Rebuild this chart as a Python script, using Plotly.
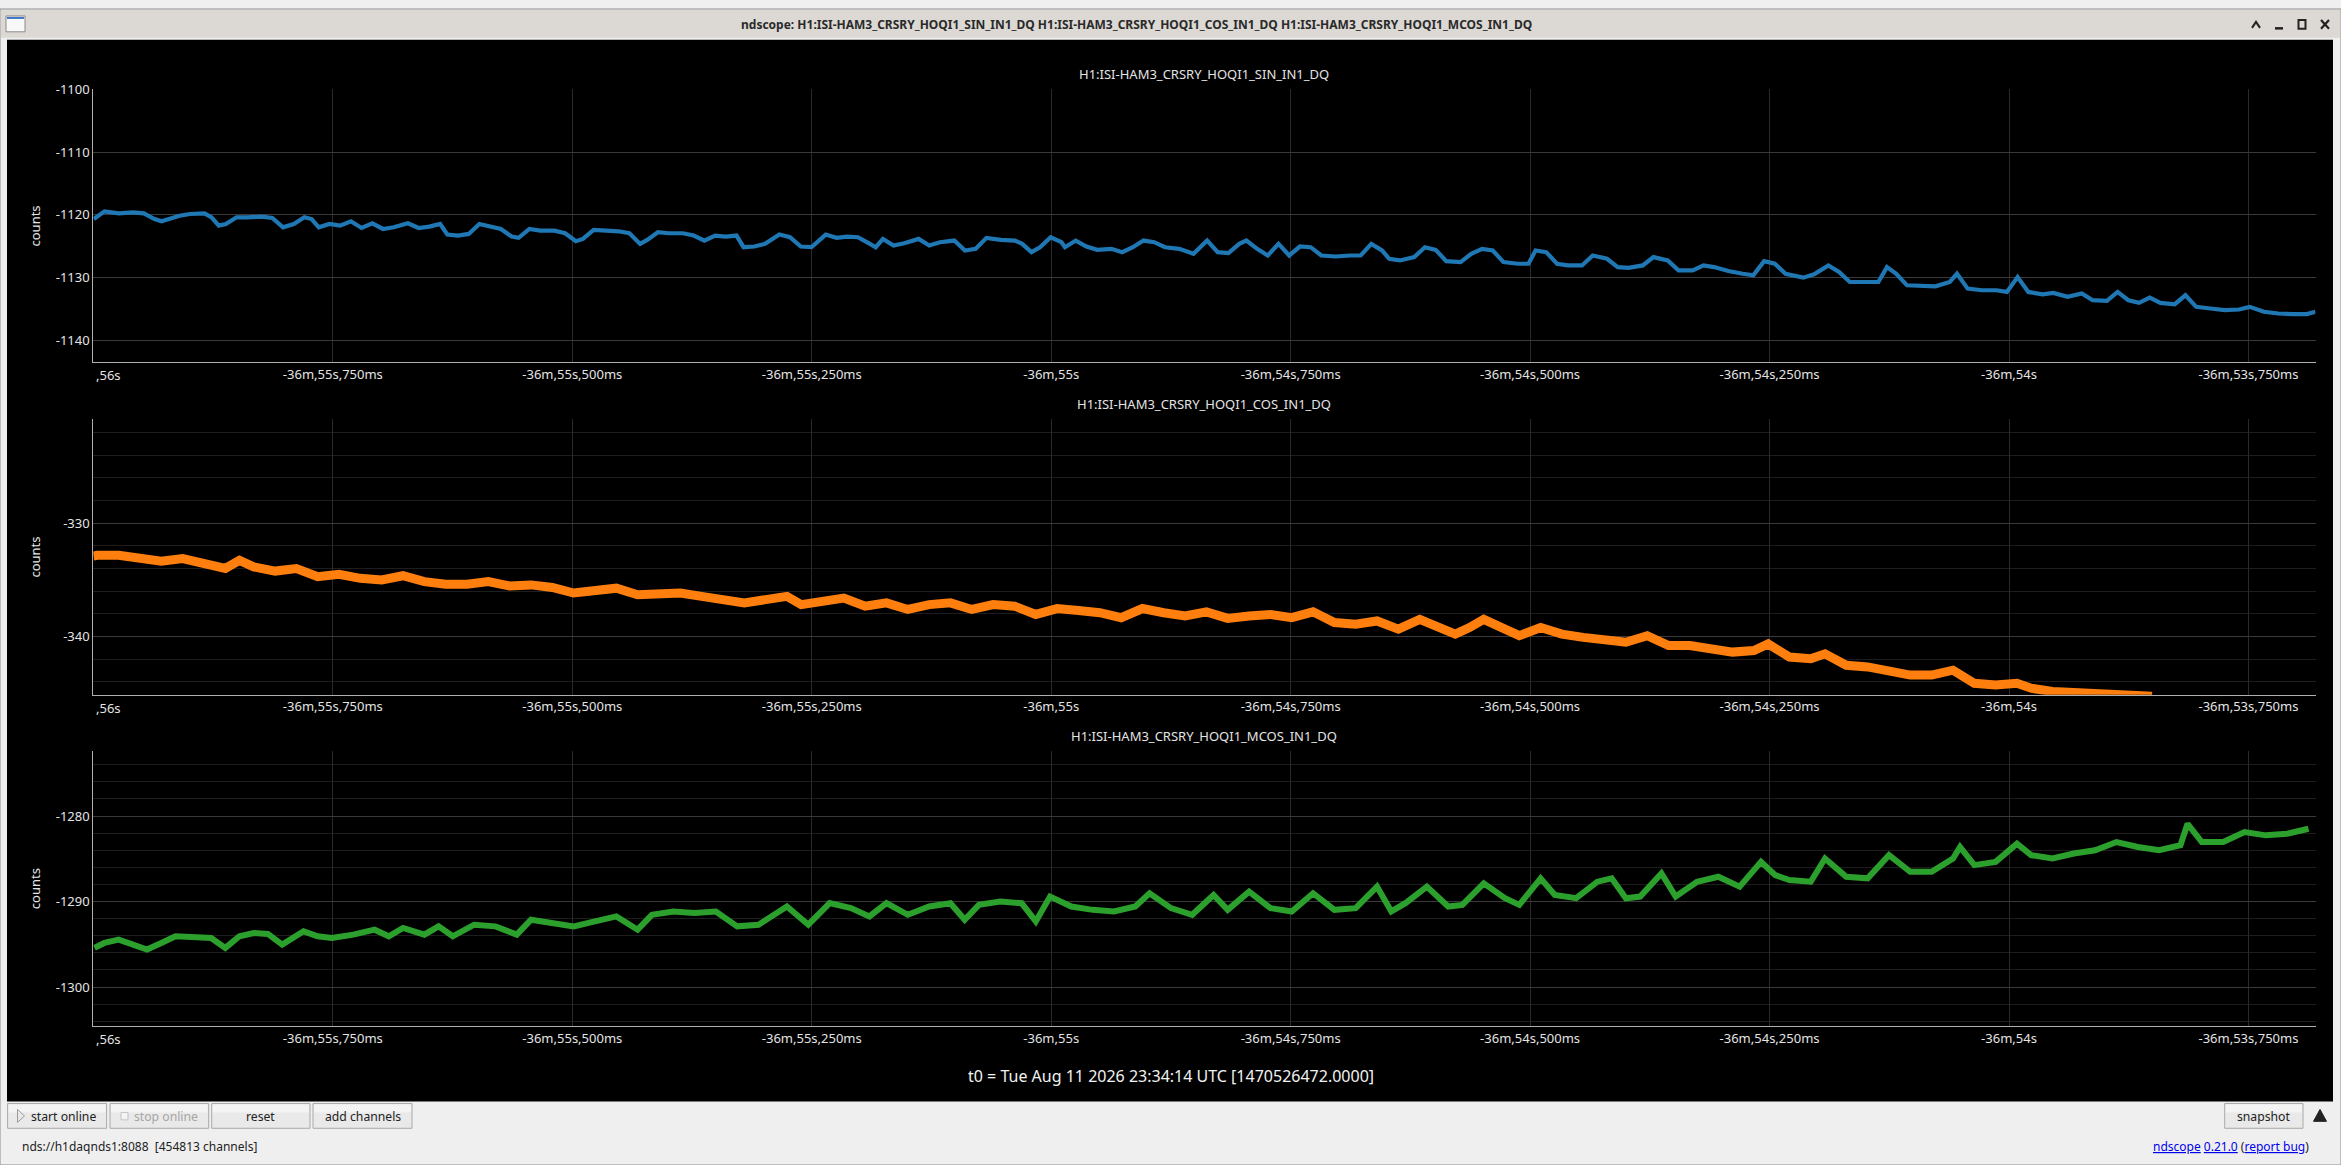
import plotly.graph_objects as go

W, H = 2341, 1165


def px(x):
    return x / W


def py(y):
    return 1 - y / H


# ---------------- data ----------------
T_START = -2216.0      # seconds relative to t0  (-36m,56s)
T_END = -2213.680

channels = ["H1:ISI-HAM3_CRSRY_HOQI1_SIN_IN1_DQ",
            "H1:ISI-HAM3_CRSRY_HOQI1_COS_IN1_DQ",
            "H1:ISI-HAM3_CRSRY_HOQI1_MCOS_IN1_DQ"]

tick_vals = [-2215.75, -2215.5, -2215.25, -2215.0, -2214.75, -2214.5, -2214.25, -2214.0, -2213.75]
tick_text = ["-36m,55s,750ms", "-36m,55s,500ms", "-36m,55s,250ms", "-36m,55s",
             "-36m,54s,750ms", "-36m,54s,500ms", "-36m,54s,250ms", "-36m,54s",
             "-36m,53s,750ms"]

y_tick_vals = [[-1140, -1130, -1120, -1110, -1100], [-340, -330], [-1300, -1290, -1280]]
y_tick_text = [["-1140", "-1130", "-1120", "-1110", "-1100"], ["-340", "-330"], ["-1300", "-1290", "-1280"]]

# SIN channel: time in ms after -36m,56s and counts
sin_t_ms = [0.4, 11.6, 26.5, 41.4, 52.6, 63.8, 71.2, 78.7, 89.9, 101.0,
            116.0, 123.4, 130.9, 138.3, 149.5, 160.7, 175.6, 186.8, 198.0, 209.2,
            220.3, 227.8, 235.3, 246.4, 257.6, 268.8, 280.0, 291.2, 302.4, 313.5,
            328.4, 339.6, 350.8, 362.0, 369.5, 380.7, 391.8, 403.0, 414.2, 425.4,
            436.6, 444.0, 455.2, 466.4, 481.3, 492.5, 503.7, 511.1, 522.3, 533.5,
            548.4, 559.6, 570.8, 578.2, 589.4, 600.6, 615.5, 626.7, 637.9, 649.1,
            660.2, 671.4, 678.9, 690.1, 701.2, 716.2, 727.3, 738.5, 749.7, 764.6,
            775.8, 787.0, 798.2, 809.4, 816.8, 824.3, 835.4, 846.6, 861.6, 872.7,
            883.9, 898.8, 910.0, 921.2, 932.4, 947.3, 962.2, 969.7, 979.4, 988.3,
            999.5, 1010.7, 1014.4, 1025.6, 1036.8, 1048.0, 1062.9, 1074.1, 1085.2, 1096.4,
            1107.6, 1118.8, 1133.7, 1148.6, 1155.3, 1162.8, 1173.9, 1185.1, 1196.3, 1203.8,
            1215.0, 1226.1, 1237.3, 1248.5, 1259.7, 1270.9, 1282.0, 1297.0, 1311.9, 1323.1,
            1334.2, 1345.4, 1352.9, 1364.1, 1379.0, 1390.2, 1401.4, 1412.5, 1427.4, 1438.6,
            1449.8, 1461.0, 1472.2, 1487.1, 1498.3, 1505.7, 1516.9, 1528.1, 1539.3, 1554.2,
            1565.4, 1580.3, 1591.5, 1602.7, 1617.6, 1628.8, 1643.7, 1654.9, 1669.8, 1681.0,
            1692.1, 1707.0, 1722.0, 1733.1, 1744.3, 1755.5, 1766.7, 1785.3, 1796.5, 1811.4,
            1822.6, 1833.8, 1852.4, 1863.6, 1872.6, 1882.3, 1893.5, 1908.4, 1923.3, 1938.2,
            1945.7, 1956.8, 1971.7, 1986.7, 1997.8, 2009.0, 2020.2, 2035.1, 2046.3, 2061.2,
            2076.1, 2087.3, 2102.2, 2113.4, 2124.6, 2135.8, 2146.9, 2158.1, 2173.0, 2184.2,
            2195.4, 2210.3, 2225.2, 2240.2, 2251.3, 2266.2, 2281.2, 2296.1, 2311.0, 2320.0]
sin_counts = [-1120.69, -1119.47, -1119.79, -1119.63, -1119.79, -1120.69, -1121.06, -1120.69, -1120.16, -1119.89,
              -1119.79, -1120.42, -1121.75, -1121.48, -1120.42, -1120.42, -1120.32, -1120.53, -1122.01, -1121.48,
              -1120.42, -1120.69, -1122.01, -1121.48, -1121.75, -1121.06, -1122.12, -1121.38, -1122.28, -1122.01,
              -1121.38, -1122.12, -1121.90, -1121.48, -1123.17, -1123.33, -1123.07, -1121.48, -1121.90, -1122.28,
              -1123.49, -1123.70, -1122.28, -1122.54, -1122.54, -1122.96, -1124.23, -1123.86, -1122.43, -1122.54,
              -1122.65, -1122.96, -1124.66, -1124.02, -1122.80, -1122.96, -1122.96, -1123.33, -1124.13, -1123.33,
              -1123.49, -1123.33, -1125.19, -1125.08, -1124.66, -1123.17, -1123.60, -1125.08, -1125.19, -1123.17,
              -1123.70, -1123.49, -1123.60, -1124.55, -1125.19, -1123.86, -1124.92, -1124.55, -1123.86, -1124.92,
              -1124.39, -1124.13, -1125.71, -1125.45, -1123.70, -1124.02, -1124.13, -1124.66, -1125.98, -1125.19,
              -1123.60, -1124.39, -1125.19, -1124.13, -1125.08, -1125.61, -1125.45, -1125.98, -1125.19, -1124.13,
              -1124.39, -1125.19, -1125.45, -1126.24, -1125.19, -1124.13, -1125.98, -1126.14, -1124.66, -1124.13,
              -1125.45, -1126.51, -1124.66, -1126.51, -1125.08, -1125.19, -1126.51, -1126.67, -1126.51, -1126.51,
              -1124.66, -1125.71, -1127.04, -1127.30, -1126.77, -1125.19, -1125.61, -1127.41, -1127.57, -1126.24,
              -1125.45, -1125.71, -1127.57, -1127.83, -1127.83, -1125.71, -1125.98, -1127.83, -1128.10, -1128.10,
              -1126.51, -1127.04, -1128.36, -1128.47, -1128.10, -1126.77, -1127.30, -1128.89, -1128.89, -1128.10,
              -1128.36, -1128.99, -1129.42, -1129.68, -1127.41, -1127.83, -1129.42, -1130.05, -1129.52, -1128.10,
              -1129.15, -1130.74, -1130.74, -1130.74, -1128.36, -1129.42, -1131.27, -1131.43, -1131.43, -1130.74,
              -1129.42, -1131.80, -1132.06, -1132.06, -1132.33, -1129.95, -1132.33, -1132.70, -1132.49, -1133.12,
              -1132.59, -1133.65, -1133.76, -1132.33, -1133.65, -1134.07, -1133.23, -1134.07, -1134.29, -1132.86,
              -1134.71, -1134.97, -1135.24, -1135.13, -1134.71, -1135.50, -1135.77, -1135.87, -1135.87, -1135.50]

# COS channel
cos_t_ms = [0.0, 4.1, 26.4, 48.6, 70.9, 93.2, 115.4, 137.7, 152.5, 167.4,
            189.7, 211.9, 234.2, 256.5, 278.7, 301.0, 323.3, 345.5, 367.8, 390.1,
            412.3, 434.6, 456.9, 479.2, 501.4, 523.7, 546.0, 568.2, 590.5, 612.8,
            635.0, 657.3, 679.6, 701.8, 724.1, 739.0, 761.2, 783.5, 805.8, 828.0,
            850.3, 872.6, 894.8, 917.1, 939.4, 961.7, 983.9, 1006.2, 1028.5, 1050.7,
            1073.0, 1095.3, 1117.5, 1139.8, 1162.1, 1184.3, 1206.6, 1228.9, 1251.1, 1273.4,
            1295.7, 1317.9, 1340.2, 1362.5, 1384.8, 1407.0, 1421.9, 1436.7, 1451.6, 1473.8,
            1488.7, 1511.0, 1533.2, 1555.5, 1577.8, 1600.0, 1622.3, 1644.6, 1666.8, 1689.1,
            1711.4, 1733.6, 1748.5, 1770.8, 1793.0, 1807.9, 1830.1, 1852.4, 1874.7, 1896.9,
            1919.2, 1941.5, 1963.8, 1986.0, 2008.3, 2023.1, 2045.4, 2067.7, 2089.9, 2112.2, 2149.3]
cos_counts = [-332.90, -332.84, -332.84, -333.07, -333.36, -333.13, -333.57, -334.00, -333.28, -333.86,
              -334.23, -334.00, -334.72, -334.52, -334.87, -335.01, -334.64, -335.16, -335.39, -335.39,
              -335.16, -335.54, -335.45, -335.68, -336.17, -335.88, -335.74, -336.32, -336.17, -336.17,
              -336.46, -336.75, -337.04, -336.75, -336.46, -337.19, -336.84, -336.61, -337.33, -337.04,
              -337.62, -337.19, -337.04, -337.62, -337.19, -337.33, -338.06, -337.54, -337.71, -337.91,
              -338.35, -337.54, -337.91, -338.20, -337.83, -338.41, -338.20, -338.06, -338.35, -337.83,
              -338.78, -338.93, -338.64, -339.36, -338.49, -339.22, -339.80, -339.22, -338.49, -339.36,
              -339.94, -339.22, -339.80, -340.09, -340.23, -340.52, -339.94, -340.81, -340.81, -341.10,
              -341.39, -341.25, -340.67, -341.83, -341.97, -341.54, -342.55, -342.70, -342.99, -343.42,
              -343.42, -342.99, -344.14, -344.29, -344.14, -344.58, -344.87, -344.96, -345.07, -345.10, -345.30]

# MCOS channel
mcos_t_ms = [1.1, 11.5, 26.4, 41.2, 56.0, 70.9, 85.7, 108.0, 122.9, 137.7,
             152.5, 167.4, 182.2, 197.1, 219.4, 234.2, 249.0, 271.3, 293.6, 308.4,
             323.3, 345.5, 360.4, 375.2, 397.5, 419.8, 442.0, 456.9, 479.2, 501.4,
             523.7, 546.0, 568.2, 583.1, 605.3, 627.6, 649.9, 672.2, 694.4, 709.3,
             724.1, 746.4, 768.7, 790.9, 810.2, 828.0, 850.3, 872.6, 894.8, 909.7,
             924.5, 946.8, 969.1, 983.9, 998.8, 1021.0, 1043.3, 1065.6, 1087.8, 1102.7,
             1125.0, 1147.2, 1169.5, 1184.3, 1206.6, 1228.9, 1251.1, 1273.4, 1295.7, 1317.9,
             1340.2, 1355.1, 1369.9, 1392.2, 1414.5, 1429.3, 1451.6, 1473.8, 1488.7, 1511.0,
             1525.8, 1548.1, 1570.3, 1585.2, 1600.0, 1614.9, 1637.1, 1652.0, 1674.3, 1696.5,
             1718.8, 1741.1, 1755.9, 1770.8, 1793.0, 1807.9, 1830.1, 1852.4, 1874.7, 1896.9,
             1919.2, 1941.5, 1948.9, 1963.8, 1986.0, 2008.3, 2023.1, 2045.4, 2067.7, 2089.9,
             2112.2, 2134.5, 2156.7, 2179.0, 2186.4, 2201.3, 2223.6, 2245.9, 2268.1, 2290.4, 2312.7]
mcos_counts = [-1295.42, -1294.84, -1294.45, -1295.03, -1295.61, -1294.84, -1294.06, -1294.18, -1294.26, -1295.42,
               -1294.06, -1293.68, -1293.79, -1295.03, -1293.48, -1294.06, -1294.26, -1293.87, -1293.29, -1294.06,
               -1293.09, -1293.87, -1292.90, -1294.06, -1292.71, -1292.90, -1293.87, -1292.13, -1292.51, -1292.90,
               -1292.32, -1291.74, -1293.29, -1291.55, -1291.16, -1291.35, -1291.16, -1292.90, -1292.71, -1291.55,
               -1290.58, -1292.71, -1290.19, -1290.77, -1291.74, -1290.19, -1291.55, -1290.58, -1290.19, -1292.13,
               -1290.39, -1290.00, -1290.19, -1292.32, -1289.42, -1290.58, -1290.97, -1291.16, -1290.58, -1289.03,
               -1290.77, -1291.55, -1289.23, -1290.97, -1288.84, -1290.77, -1291.16, -1289.03, -1290.97, -1290.77,
               -1288.26, -1291.16, -1290.19, -1288.26, -1290.58, -1290.39, -1287.87, -1289.61, -1290.39, -1287.29,
               -1289.23, -1289.61, -1287.68, -1287.29, -1289.61, -1289.42, -1286.71, -1289.42, -1287.68, -1287.10,
               -1288.26, -1285.36, -1286.91, -1287.49, -1287.68, -1284.97, -1287.10, -1287.29, -1284.58, -1286.52,
               -1286.52, -1284.97, -1283.62, -1285.74, -1285.36, -1283.23, -1284.58, -1284.97, -1284.39, -1284.00,
               -1283.04, -1283.62, -1284.00, -1283.42, -1280.91, -1283.04, -1283.04, -1281.88, -1282.26, -1282.07, -1281.49]

y_ranges = [[-1143.55, -1100.0], [-345.15, -320.8], [-1304.56, -1272.39]]
series_colors = ["#1f77b4", "#ff7f0e", "#2ca02c"]
t0_text = "t0 = Tue Aug 11 2026 23:34:14 UTC [1470526472.0000]"

# ---------------- layout geometry (pixels) ----------------
PLOT_L, PLOT_R = 93.4, 2315.5
PLOT_TB = [(81.0, 356.0), (413.3, 691.0), (747.7, 1025.0)]
FONT = "Noto Sans"
TXT = "#e4e4e4"

fig = go.Figure()
series = [(sin_t_ms, sin_counts), (cos_t_ms, cos_counts), (mcos_t_ms, mcos_counts)]
widths = [4.2, 9.0, 6.0]
for i, (tms, vals) in enumerate(series):
    sfx = "" if i == 0 else str(i + 1)
    fig.add_trace(go.Scatter(
        x=[T_START + t / 1000.0 for t in tms], y=vals, mode="lines",
        line=dict(color=series_colors[i], width=widths[i]),
        xaxis="x" + sfx, yaxis="y" + sfx, showlegend=False, hoverinfo="skip"))

layout = dict(width=W, height=H, autosize=False,
              margin=dict(l=0, r=0, t=0, b=0, pad=0),
              paper_bgcolor="#efefef", plot_bgcolor="#000000",
              hovermode=False, showlegend=False,
              font=dict(family=FONT, size=13, color=TXT))

for i, (top, bot) in enumerate(PLOT_TB):
    sfx = "" if i == 0 else str(i + 1)
    layout["xaxis" + sfx] = dict(
        domain=[px(PLOT_L), px(PLOT_R)], range=[T_START, T_END], anchor="y" + sfx,
        tickmode="array", tickvals=tick_vals, ticktext=tick_text,
        showgrid=True, gridcolor="#2a2a2a", gridwidth=1,
        showline=True, linecolor="#b0b0b0", linewidth=1.3,
        ticks="", ticklen=0, ticklabelstandoff=0, zeroline=False, fixedrange=True,
        tickfont=dict(family=FONT, size=13, color=TXT))
    ya = dict(
        domain=[py(bot), py(top)], range=y_ranges[i], anchor="x" + sfx,
        tickmode="array", tickvals=y_tick_vals[i], ticktext=y_tick_text[i],
        showgrid=True, gridcolor="#3a3a3a", gridwidth=1,
        showline=True, linecolor="#b0b0b0", linewidth=1.3,
        ticks="", ticklen=0, ticklabelstandoff=0, zeroline=False, fixedrange=True,
        tickfont=dict(family=FONT, size=13, color=TXT))
    if i > 0:
        ya["minor"] = dict(tickmode="linear", tick0=0, dtick=2, showgrid=True,
                           gridcolor="#1d1d1d", gridwidth=1, ticks="")
    layout["yaxis" + sfx] = ya

shapes = []
annotations = []


def rect(x0, y0, x1, y1, fill, line=None, lw=0, layer="below"):
    shapes.append(dict(type="rect", xref="paper", yref="paper",
                       x0=px(x0), x1=px(x1), y0=py(y1), y1=py(y0),
                       fillcolor=fill, layer=layer,
                       line=dict(color=line or fill, width=lw)))


def text(x, y, s, size=12, color="#222222", xanchor="center", family=FONT, angle=0, bold=False):
    annotations.append(dict(xref="paper", yref="paper", x=px(x), y=py(y), text=s,
                            showarrow=False, xanchor=xanchor, yanchor="middle", textangle=angle,
                            font=dict(family=family, size=size, color=color,
                                      weight="bold" if bold else "normal")))


# window frame and title bar
rect(0, 0, W, H, "#efefef", "#8c8c8c", 1)
rect(1, 1, W - 1, 29, "#dcd8d4")
rect(7, 31, 2333, 1101, "#000000")
# window icon
rect(6, 7, 25, 23, "#f8f8f8", "#8a8a8a", 1)
rect(7, 8, 24, 10, "#3d73c4")
text(1136, 15.5, "ndscope: " + " ".join(channels), size=12, color="#2a2a2a", bold=True)
# window controls
shapes.append(dict(type="path", xref="paper", yref="paper", layer="above",
                   path=f"M {px(2252)} {py(19)} L {px(2256)} {py(13)} L {px(2260)} {py(19)}",
                   line=dict(color="#222222", width=2)))
shapes.append(dict(type="line", xref="paper", yref="paper", layer="above",
                   x0=px(2275), x1=px(2283), y0=py(19.5), y1=py(19.5),
                   line=dict(color="#222222", width=2.5)))
shapes.append(dict(type="rect", xref="paper", yref="paper", layer="above",
                   x0=px(2298.5), x1=px(2305.5), y0=py(20), y1=py(11),
                   line=dict(color="#222222", width=2)))
for (a, b, c, d) in [(2321, 11, 2329, 20), (2321, 20, 2329, 11)]:
    shapes.append(dict(type="line", xref="paper", yref="paper", layer="above",
                       x0=px(a), x1=px(c), y0=py(b), y1=py(d),
                       line=dict(color="#222222", width=2.2)))

# plot titles, y-axis titles and clipped first tick label
for i, (top, bot) in enumerate(PLOT_TB):
    text((PLOT_L + PLOT_R) / 2, top - 15.5, channels[i], size=13, color=TXT)
    text(34.7, (top + bot) / 2, "counts", size=13, color=TXT, angle=-90)
    text(PLOT_L + 0.5, bot + 13, ",56s", size=13, color=TXT, xanchor="left")

text(1171, 1075, t0_text, size=16, color="#f2f2f2")

# bottom toolbar buttons
buttons = [(7.6, 106.6, "start online", "#222222"), (110, 208.7, "stop online", "#a6a6a6"),
           (211.7, 310, "reset", "#222222"), (313, 412, "add channels", "#222222"),
           (2224.7, 2303, "snapshot", "#222222")]
for (x0, x1, label, col) in buttons:
    rect(x0, 1103, x1, 1128, "#e9e9e9", "#a9a9a9", 1, layer="above")
    rect(x0 + 1, 1104, x1 - 1, 1112, "#f4f4f4", layer="above")
    cx = (x0 + x1) / 2
    if label == "start online":
        cx = 63.8
    if label == "stop online":
        cx = 166
    text(cx, 1116, label, size=12.2, color=col)
# start/stop icons
shapes.append(dict(type="path", xref="paper", yref="paper", layer="above",
                   path=f"M {px(17.5)} {py(1109)} L {px(24.5)} {py(1115.5)} L {px(17.5)} {py(1122)} Z",
                   line=dict(color="#9a9a9a", width=1)))
shapes.append(dict(type="rect", xref="paper", yref="paper", layer="above",
                   x0=px(121), x1=px(128), y0=py(1119.5), y1=py(1112),
                   line=dict(color="#c2c2c2", width=1), fillcolor="#f4f4f4"))
# expand triangle
shapes.append(dict(type="path", xref="paper", yref="paper", layer="above",
                   path=f"M {px(2313.5)} {py(1121)} L {px(2326.5)} {py(1121)} L {px(2320)} {py(1109)} Z",
                   line=dict(color="#222222", width=1), fillcolor="#222222"))

text(20.4, 1146, "nds://h1daqnds1:8088&nbsp;&nbsp;[454813 channels]", size=12, color="#222222", xanchor="left")
link = ("<span style='color:#0000ee'><u>ndscope</u> <u>0.21.0</u></span>"
        " (<span style='color:#0000ee'><u>report bug</u></span>)")
annotations.append(dict(xref="paper", yref="paper", x=px(2311), y=py(1146), text=link,
                        showarrow=False, xanchor="right", yanchor="middle",
                        font=dict(family=FONT, size=12, color="#222222")))

layout["shapes"] = shapes
layout["annotations"] = annotations
fig.update_layout(**layout)
fig.write_html("out.html", config={"displayModeBar": False},
               post_script="document.body.style.margin='0px';document.body.style.overflow='hidden';")
